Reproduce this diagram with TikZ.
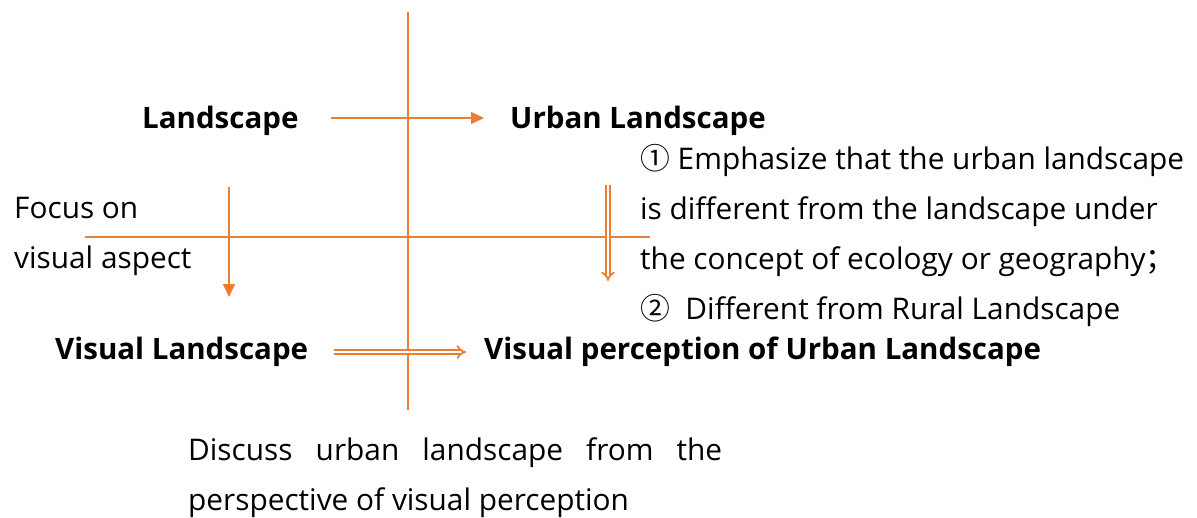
\documentclass[tikz,border=0pt]{standalone}
\usepackage{fontspec}
\setmainfont{Open Sans}
\newfontfamily\cjk{Noto Sans CJK SC}
\usetikzlibrary{positioning,arrows.meta,calc}

\definecolor{lineorange}{HTML}{ED7D31}

\begin{document}
\begin{tikzpicture}[x=1pt,y=-1pt,
	every node/.style={inner sep=0pt,font=\fontsize{29.8}{50}\selectfont},
	lbl/.style={anchor=base west,font=\fontsize{29.5}{50}\selectfont\bfseries},
	txt/.style={anchor=base west,align=left},
	axis/.style={lineorange,line width=1.4pt},
	arr/.style={lineorange,line width=1.4pt,-{Triangle[length=13pt,width=12pt]}},
	dbl/.style={lineorange,line width=1.8pt,double=white,double distance=2.6pt,-{Implies[length=6pt,width=14pt]}}]

\useasboundingbox (0,0) rectangle (1197,517);

% the two crossing lines
\coordinate(vt) at (408,12);
\coordinate(vb) at (408,410);
\coordinate(hl) at (85,237);
\coordinate(hr) at (650,237);
\draw[axis](vt)--(vb);
\draw[axis](hl)--(hr);

% labels
\node[lbl](land) at (142,128) {Landscape};
\node[lbl](urban) at (510,128) {Urban Landscape};
\node[lbl](vland) at (55,359) {Visual Landscape};
\node[lbl](vperc) at (484,359) {Visual perception of Urban Landscape};

% multi-line texts, placed by the baseline of their last line
\node[txt](focus) at (14,268) {Focus on\\visual aspect};
\node[txt](urbnote) at (640,319) {{\cjk ①} Emphasize that the urban landscape\\is different from the landscape under\\the concept of ecology or geography{\cjk ；}\\{\cjk ②} \ Different from Rural Landscape};
\node[txt](discuss) at (188,510) {\makebox[534pt][s]{Discuss urban landscape from the}\\perspective of visual perception};

% arrows
\coordinate(a1) at (331,118);
\coordinate(b1) at (484,118);
\coordinate(a2) at (229,187);
\coordinate(b2) at (229,297);
\coordinate(a3) at (608,185);
\coordinate(b3) at (608,281);
\coordinate(a4) at (334,352);
\coordinate(b4) at (466,352);

\draw[arr](a1)--(b1);
\draw[arr](a2)--(b2);
\draw[dbl](a3)--(b3);
\draw[dbl](a4)--(b4);

\end{tikzpicture}
\end{document}
